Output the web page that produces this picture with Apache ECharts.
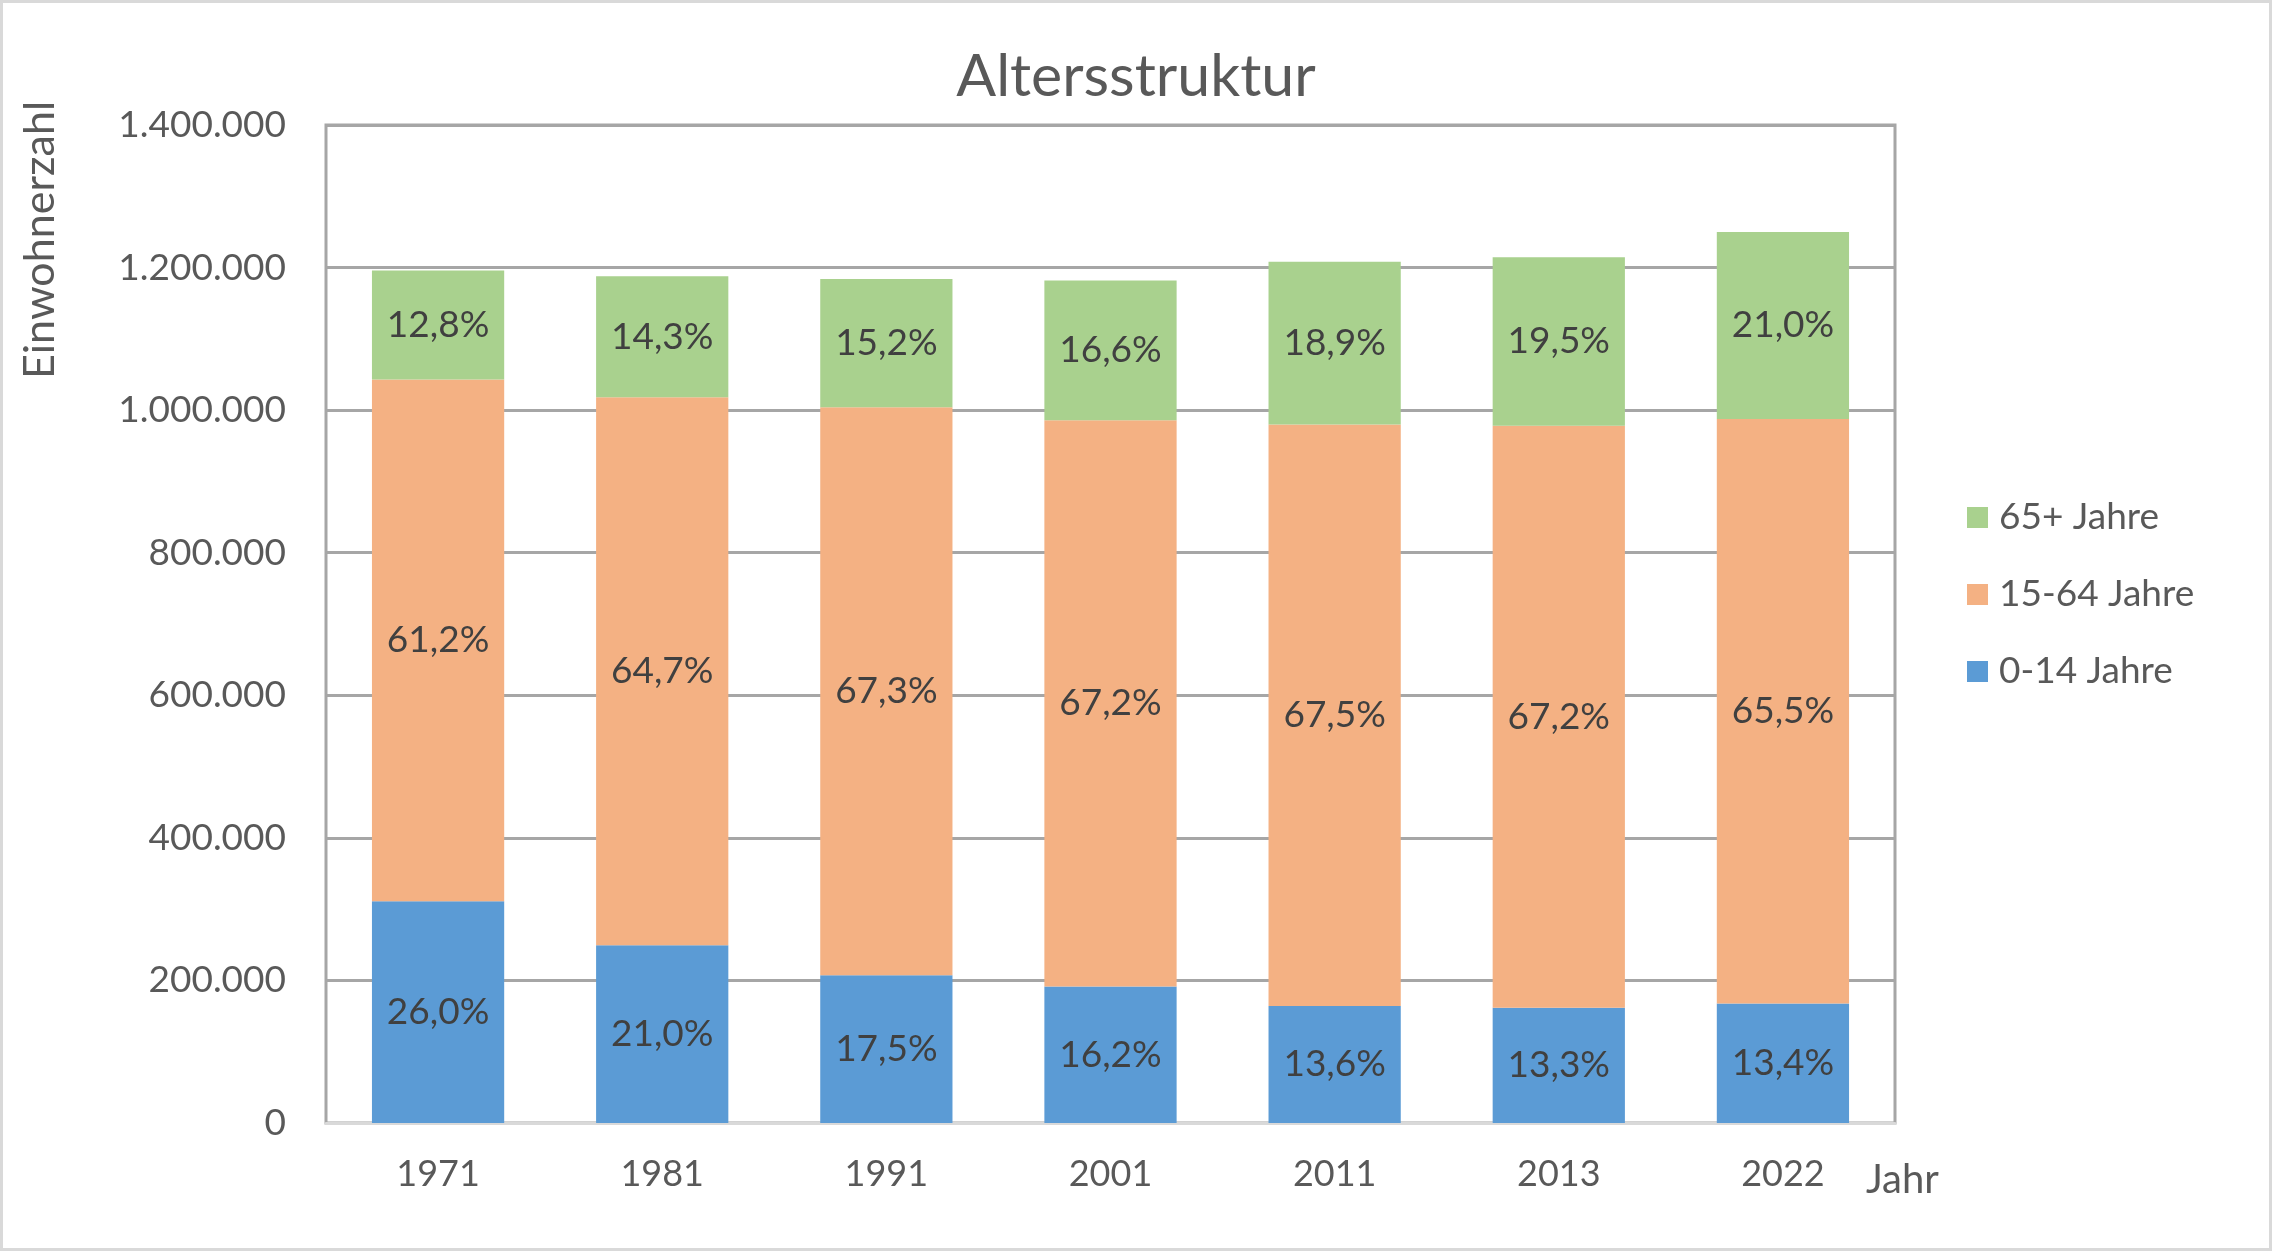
<!DOCTYPE html>
<html>
<head>
<meta charset="utf-8">
<title>Altersstruktur</title>
<script src="https://cdn.jsdelivr.net/npm/echarts@6/dist/echarts.min.js"></script>
<style>
  html, body { margin: 0; padding: 0; background: #fff; }
  #chartContainer { width: 2272px; height: 1251px; }
</style>
</head>
<body>
<div id="chartContainer"></div>
<script>
// Jahre (Kategorien)
var years = ['1971', '1981', '1991', '2001', '2011', '2013', '2022'];

// Einwohner je Altersgruppe
var kids = [311000, 249500, 207200, 191500, 164300, 161500, 167500];
var adults = [732000, 768600, 796800, 794300, 815400, 816500, 820000];
var seniors = [153000, 169900, 180000, 196200, 228300, 236500, 262500];

// Prozentangaben (Beschriftung)
var kidsPct = [26.0, 21.0, 17.5, 16.2, 13.6, 13.3, 13.4];
var adultsPct = [61.2, 64.7, 67.3, 67.2, 67.5, 67.2, 65.5];
var seniorsPct = [12.8, 14.3, 15.2, 16.6, 18.9, 19.5, 21.0];

// Achsenwerte
var yMin = 0, yMax = 1400000, yStep = 200000;

var fontFamily = 'Lato, "Noto Sans", sans-serif';

//Tausenderpunkt
function formatNumber(v) {
    return String(v).replace(/\B(?=(\d{3})+(?!\d))/g, '.');
}

function pctLabel(arr) {
    return function(p) {
        return arr[p.dataIndex].toFixed(1).replace('.', ',') + '%';
    };
}

function barSeries(name, data, pct, color) {
    return {
        name: name,
        type: 'bar',
        stack: 'total',
        barWidth: '59%',
        data: data,
        itemStyle: { color: color },
        label: {
            show: true,
            position: 'inside',
            formatter: pctLabel(pct),
            color: '#404040',
            fontSize: 37,
            fontFamily: fontFamily
        },
        emphasis: { disabled: true }
    };
}

var myEchart = echarts.init(document.getElementById('chartContainer'));

var option = {
    backgroundColor: '#fff',
    animation: false,
    //Titel
    title: {
        text: 'Altersstruktur',
        left: 'center',
        top: 42,
        textStyle: {
            color: '#595959',
            fontSize: 59,
            fontWeight: 'normal',
            fontFamily: fontFamily
        }
    },
    legend: {
        orient: 'vertical',
        left: 1962,
        top: 494,
        itemWidth: 21,
        itemHeight: 21,
        itemGap: 40,
        icon: 'rect',
        data: ['65+ Jahre', '15-64 Jahre', '0-14 Jahre'],
        textStyle: {
            color: '#595959',
            fontSize: 37,
            fontFamily: fontFamily,
            padding: [0, 0, 0, 6]
        }
    },
    grid: {
        left: 326,
        right: 377,
        top: 125,
        bottom: 128,
        show: true,
        borderColor: '#a6a6a6',
        borderWidth: 3,
        containLabel: false
    },
    xAxis: {
        type: 'category',
        data: years,
        axisLine: { show: true, lineStyle: { color: '#d9d9d9', width: 3 } },
        axisTick: { show: false },
        axisLabel: {
            color: '#595959',
            fontSize: 36,
            fontFamily: fontFamily,
            margin: 33
        }
    },
    yAxis: {
        type: 'value',
        min: yMin,
        max: yMax,
        interval: yStep,
        axisLine: { show: false },
        axisTick: { show: false },
        splitLine: { lineStyle: { color: '#a6a6a6', width: 3 } },
        axisLabel: {
            color: '#595959',
            fontSize: 37,
            fontFamily: fontFamily,
            margin: 40,
            formatter: formatNumber
        }
    },
    graphic: [
        {
            type: 'rect',
            shape: { x: 1.5, y: 1.5, width: 2269, height: 1248 },
            style: { fill: 'none', stroke: '#d9d9d9', lineWidth: 3 },
            silent: true
        },
        {
            type: 'text',
            x: 40,
            y: 240,
            rotation: Math.PI / 2,
            style: {
                text: 'Einwohnerzahl',
                fill: '#595959',
                font: '43px ' + fontFamily,
                align: 'center',
                verticalAlign: 'middle'
            }
        },
        {
            type: 'text',
            x: 1866,
            y: 1180,
            style: {
                text: 'Jahr',
                fill: '#595959',
                font: '40px ' + fontFamily,
                align: 'left',
                verticalAlign: 'middle'
            }
        }
    ],
    series: [
        barSeries('0-14 Jahre', kids, kidsPct, '#5b9bd5'),
        barSeries('15-64 Jahre', adults, adultsPct, '#f4b183'),
        barSeries('65+ Jahre', seniors, seniorsPct, '#a9d18e')
    ]
};

myEchart.setOption(option);
</script>
</body>
</html>
